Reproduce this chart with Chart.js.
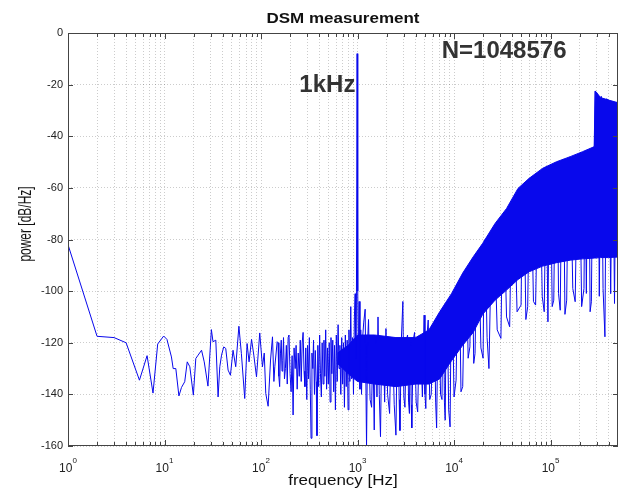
<!DOCTYPE html>
<html>
<head>
<meta charset="utf-8">
<script src="https://cdn.jsdelivr.net/npm/chart.js@4.4.1/dist/chart.umd.min.js"></script>
<style>
  body { margin: 0; background: #fff; }
  #wrap { width: 620px; height: 490px; }
</style>
</head>
<body>
<div id="wrap"><canvas id="dsm"></canvas></div>
<script>
// spectrum trace (Hz, dB/Hz), split by region
const lowFreq = [
  1, 2, 3, 4, 5.5, 6.6, 7.6, 8.5, 9.8, 10.6, 11.8, 12.3, 13.1, 14.1, 15, 16.2, 17.2, 18.3, 19.9,
  21.1, 22.3, 24.2, 25.8, 28.2, 30.6, 31.8, 34, 35.9, 37.4, 39, 41.1, 43.1, 45.6, 48.2, 51.3, 54.7,
  59, 62.6, 67.8, 71.7, 75.2, 79.8, 84.2, 89.8, 97, 103.5, 108, 112, 118.5, 125.5, 131.5, 136, 139, 147
];
const lowPow = [
  -82, -117.5, -118, -120, -134.5, -125, -139.5, -120.5, -117.4, -118.7, -125.5, -130, -130, -140.6, -137.3, -135.1, -127.4, -129.3, -140.3,
  -126.1, -124.8, -122.9, -127.4, -136.8, -114.9, -119.6, -119, -141, -129.3, -124.8, -121.6, -122.2, -130.6, -132.6, -122.9, -129.3,
  -113.6, -124.2, -141.6, -120.3, -127.4, -118.7, -124.8, -133.2, -116.2, -129.3, -124, -139.7, -144.6, -126.7, -117.7, -135, -129.3, -119.6
];

const midFreq = [
  150, 153, 156, 159, 162, 165, 168, 171, 175, 179, 183, 187, 191, 195, 200, 205, 210, 215, 220, 226,
  231, 237, 243, 249, 255, 261, 267, 273, 279, 285, 291, 298, 304, 311, 317, 324, 330, 337, 344, 350,
  358, 365, 373, 380, 388, 396, 405, 413, 422, 430, 440, 449, 458, 468, 478, 488, 498, 509, 520, 531,
  542, 554, 566, 578, 590, 603, 616, 629, 643, 657, 671, 686, 701, 716, 732, 748, 764, 781, 798, 815,
  833, 851, 870, 889, 908, 928, 945, 960, 975
];
const midPow = [
  -120, -133, -137, -124, -119, -131, -127, -118, -134, -130, -121, -136, -118, -117, -132, -139, -125, -148, -122, -130,
  -121, -138, -124, -133, -119, -135, -120, -116, -131, -137, -122, -142, -121, -134, -118, -138, -157, -124, -130, -119,
  -140, -123, -135, -156, -121, -137, -117, -132, -141, -120, -136, -119, -133, -115, -138, -122, -136, -120, -143, -118,
  -132, -119, -139, -121, -146, -117, -135, -113, -130, -121, -140, -118, -136, -120, -145, -117, -137, -119, -146, -115,
  -135, -106, -134, -118, -140, -110, -101, -126, -100
];

// 1 kHz tone
const toneFreq = [990];
const tonePow = [-8];

const highFreq = [
  1005, 1020, 1040, 1060, 1080, 1100, 1130, 1160, 1200, 1240, 1270, 1300, 1350, 1400, 1440, 1490, 1520, 1550,
  1590, 1630, 1680, 1730, 1780, 1850, 1910, 1970, 2050, 2150, 2220, 2300, 2400, 2500, 2570, 2650, 2700, 2750,
  2850, 2950, 3020, 3100, 3200, 3300, 3380, 3450, 3500, 3550, 3600, 3650, 3780, 3900, 4050, 4200, 4350, 4500,
  4700, 4900, 5000, 5100, 5250, 5400, 5600, 5800, 6050, 6300, 6450, 6600, 6800, 7000, 7250, 7500, 7650, 7800,
  7950, 8100, 8300, 8500, 8800, 9100, 9350, 9600, 10000, 10500, 10900, 11400, 11800, 12300, 12900, 13500,
  14000, 14600, 15000, 15500, 16000, 16500, 17200, 18000, 19000, 20000, 20500, 21000, 22000, 23000, 24500,
  26000, 28000, 30600, 31800, 33000, 35000, 37700, 39500, 42000, 45000, 49500, 51000, 53000, 55500, 58000,
  60500, 63000, 66500, 70000, 74000, 78000, 82000, 86000, 90000, 94000, 97000, 100000, 104000, 108000,
  112000, 117000, 121000, 126000, 131000, 136000, 141000, 147000, 153000, 160000, 170000, 180000, 190000,
  200000, 210000, 222000, 228000, 235000, 242000, 250000, 257000, 265000, 274000, 283000, 290000, 300000,
  310000, 320000, 335000, 350000, 366000, 380000, 400000, 420000, 440000, 460000, 480000, 500000
];
const highPow = [
  -100, -124, -104, -138, -115, -140, -118, -112, -107, -160, -120, -111, -142, -145, -119, -153.8, -120, -118,
  -141, -110, -140, -156.4, -121, -119, -143, -114.5, -140, -147.4, -120, -118, -144, -155.8, -121, -119, -142, -154,
  -118, -104, -141, -145, -119, -117, -143, -147.4, -121, -120, -144, -153, -119, -116, -143, -146.8, -119, -118,
  -141, -109.3, -140, -145.5, -117, -111.2, -142, -140, -116, -115, -143, -153, -114, -110, -140, -142, -110, -108,
  -143, -150, -107, -106, -146, -152.6, -104, -102, -141, -134.5, -99, -97, -139, -137, -94, -92,
  -126, -121.6, -90, -88, -128, -124.2, -86, -85, -122, -126, -82, -80, -118, -130, -77,
  -75, -115, -118.3, -72, -70, -110, -113.8, -66, -64, -108, -105.4, -61, -59, -111, -106,
  -57, -56, -104, -105.4, -55, -54, -102, -108, -53, -111.9, -52, -51, -106, -103.5,
  -50.5, -50, -101, -107.4, -49.5, -49, -109, -103.5, -48.5, -48, -99, -104.1, -47.5,
  -47, -106, -99, -46.5, -100.9, -46, -45.5, -108, -104.1, -45, -44.5, -22.5, -23,
  -24, -102, -24.5, -99, -117.7, -25.5, -26, -101, -26.5, -104.8, -27, -27
];

// dense noise band (filled between top and bottom)
const bandFreq = [620, 800, 1000, 1500, 2500, 4000, 5500, 7100, 9400, 12300, 15800, 19800, 26600,
  35000, 46000, 60000, 83000, 115000, 160000, 214000, 285000, 290000, 330000, 400000, 500000];
const bandTop = [-124, -121, -117, -117, -118, -118, -115, -108, -101, -93, -86.7, -81.5, -73.8,
  -68, -60.2, -56.3, -52.4, -49.9, -47.9, -46, -44, -22.5, -25, -26, -27];
const bandBottom = [-128, -132, -135, -136, -137, -136, -136, -134, -127, -121, -116, -109, -103.5,
  -99.6, -95.5, -92.5, -90.3, -89, -88, -87.5, -87.2, -87.2, -87, -87, -86.8];

const traceFreq = lowFreq.concat(midFreq, toneFreq, highFreq);
const tracePow = lowPow.concat(midPow, tonePow, highPow);

const decades = [1, 10, 100, 1000, 10000, 100000];
const decadeExp = ["0", "1", "2", "3", "4", "5"];
const xMax = 500000;

let xTickValues = [];
decades.forEach((d) => {
  for (let m = 1; m <= 9; m++) {
    if (d * m < xMax) xTickValues.push(d * m);
  }
});

const toPts = (xs, ys) => xs.map((x, i) => ({ x: x, y: ys[i] }));
const FONT = "'Liberation Sans', Arial, sans-serif";
const BLUE = "rgb(8,8,236)";

function squashText(ctx, txt, x, y, font, sx, sy, rot) {
  ctx.save();
  ctx.translate(x, y);
  if (rot) ctx.rotate(rot);
  ctx.scale(sx, sy);
  ctx.font = font;
  ctx.fillText(txt, 0, 0);
  ctx.restore();
}

const plugin_decor = {
  id: "decor",
  afterDraw: (chart) => {
    const ctx = chart.ctx;
    const a = chart.chartArea;
    const xs = chart.scales.x;
    const ys = chart.scales.y;
    ctx.save();

    // box + inward ticks
    ctx.strokeStyle = "#444";
    ctx.lineWidth = 1;
    ctx.strokeRect(a.left + 0.5, a.top + 0.5, a.right - a.left - 1, a.bottom - a.top - 1);
    ctx.beginPath();
    xTickValues.forEach((v) => {
      const px = Math.round(xs.getPixelForValue(v)) + 0.5;
      const len = decades.includes(v) ? 6 : 4;
      ctx.moveTo(px, a.bottom);
      ctx.lineTo(px, a.bottom - len);
      ctx.moveTo(px, a.top);
      ctx.lineTo(px, a.top + len);
    });
    for (let v = -160; v <= 0; v += 20) {
      const py = Math.round(ys.getPixelForValue(v)) + 0.5;
      ctx.moveTo(a.left, py);
      ctx.lineTo(a.left + 5, py);
      ctx.moveTo(a.right, py);
      ctx.lineTo(a.right - 5, py);
    }
    ctx.stroke();

    // x tick labels 10^n
    ctx.fillStyle = "#222";
    ctx.textAlign = "left";
    ctx.textBaseline = "alphabetic";
    decades.forEach((d, i) => {
      const px = xs.getPixelForValue(d);
      ctx.font = "12px " + FONT;
      const w10 = ctx.measureText("10").width;
      ctx.font = "8px " + FONT;
      const ws = ctx.measureText(decadeExp[i]).width;
      const start = px - (w10 + ws) / 2;
      ctx.font = "12px " + FONT;
      ctx.fillText("10", start, 472);
      ctx.font = "8px " + FONT;
      ctx.fillText(decadeExp[i], start + w10, 463);
    });

    // titles
    ctx.fillStyle = "#111";
    ctx.textAlign = "center";
    ctx.textBaseline = "alphabetic";
    const cx = (a.left + a.right) / 2;
    squashText(ctx, "DSM measurement", cx, 23, "bold 17px " + FONT, 1, 0.88, 0);
    squashText(ctx, "frequency [Hz]", cx, 485, "17px " + FONT, 1, 0.9, 0);
    ctx.textBaseline = "middle";
    squashText(ctx, "power [dB/Hz]", 26, 224, "19px " + FONT, 0.63, 1, -Math.PI / 2);

    // annotations
    ctx.fillStyle = "#333";
    ctx.textBaseline = "alphabetic";
    ctx.font = "bold 24px " + FONT;
    ctx.textAlign = "right";
    ctx.fillText("1kHz", xs.getPixelForValue(950), ys.getPixelForValue(-22.8));
    ctx.textAlign = "left";
    ctx.fillText("N=1048576", xs.getPixelForValue(7450), ys.getPixelForValue(-9.7));

    ctx.restore();
  },
};

const gridOpts = { color: "rgba(0,0,0,0.2)", drawTicks: false, lineWidth: 1 };

new Chart(document.getElementById("dsm").getContext("2d"), {
  type: "line",
  data: {
    datasets: [
      {
        label: "trace",
        data: toPts(traceFreq, tracePow),
        borderColor: BLUE,
        borderWidth: 1,
        pointRadius: 0,
        tension: 0,
        fill: false,
      },
      {
        label: "band top",
        data: toPts(bandFreq, bandTop),
        borderColor: BLUE,
        borderWidth: 1,
        pointRadius: 0,
        tension: 0,
        fill: false,
      },
      {
        label: "band bottom",
        data: toPts(bandFreq, bandBottom),
        borderColor: BLUE,
        backgroundColor: BLUE,
        borderWidth: 1,
        pointRadius: 0,
        tension: 0,
        fill: "-1",
      },
    ],
  },
  options: {
    responsive: true,
    maintainAspectRatio: false,
    animation: false,
    events: [],
    layout: { padding: { top: 33, right: 2, left: 0, bottom: 0 } },
    plugins: {
      legend: { display: false },
      tooltip: { enabled: false },
      title: { display: false },
    },
    scales: {
      x: {
        type: "logarithmic",
        min: 1,
        max: xMax,
        afterBuildTicks: (s) => {
          s.ticks = xTickValues.map((v) => ({ value: v }));
        },
        afterFit: (s) => {
          s.height = 44;
        },
        ticks: { display: false },
        grid: gridOpts,
        border: { display: false, dash: [1, 2] },
      },
      y: {
        min: -160,
        max: 0,
        afterFit: (s) => {
          s.width = 68;
        },
        ticks: {
          stepSize: 20,
          padding: 5,
          color: "#222",
          font: { family: FONT, size: 11 },
        },
        grid: gridOpts,
        border: { display: false, dash: [1, 2] },
      },
    },
  },
  plugins: [plugin_decor],
});
</script>
</body>
</html>
